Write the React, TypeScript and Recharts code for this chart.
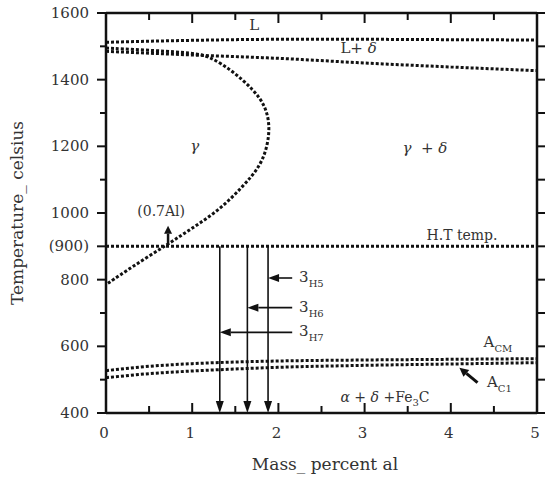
import { LineChart, Line, XAxis, YAxis, CartesianGrid, ReferenceLine, ReferenceDot } from "recharts"

const INK = "#111"
const FONT = "'DejaVu Serif', serif"

// axes
const xTicks = [0, 0.5, 1, 1.5, 2, 2.5, 3, 3.5, 4, 4.5, 5]
const yTicks = [400, 500, 600, 700, 800, 900, 1000, 1100, 1200, 1300, 1400, 1500, 1600]
const yLabels: Record<number, string> = {
  1600: "1600", 1400: "1400", 1200: "1200", 1000: "1000",
  900: "(900)", 800: "800", 600: "600", 400: "400",
}
const X_MIN = 0
const X_MAX = 5
const Y_MIN = 400
const Y_MAX = 1600

// phase boundaries (mass % Al, °C)
const liquidus = [
  { x: 0, y: 1512 }, { x: 1, y: 1518 }, { x: 2, y: 1521 },
  { x: 3, y: 1521 }, { x: 4, y: 1520 }, { x: 5, y: 1519 },
]
const deltaSolvus = [
  { x: 0, y: 1485 }, { x: 1, y: 1474 }, { x: 2, y: 1464 },
  { x: 3, y: 1450 }, { x: 4, y: 1438 }, { x: 5, y: 1427 },
]
const gammaLoop = [
  { x: 0, y: 1495 }, { x: 0.6, y: 1487 }, { x: 1.0, y: 1480 }, { x: 1.2, y: 1471 },
  { x: 1.48, y: 1424 }, { x: 1.71, y: 1370 }, { x: 1.84, y: 1325 }, { x: 1.9, y: 1270 },
  { x: 1.88, y: 1205 }, { x: 1.79, y: 1140 }, { x: 1.59, y: 1080 }, { x: 1.32, y: 1010 },
  { x: 1.01, y: 956 }, { x: 0.71, y: 905 }, { x: 0.31, y: 840 }, { x: 0, y: 785 },
]
const heatTreat = [{ x: 0, y: 900 }, { x: 5, y: 900 }]
const acmLine = [
  { x: 0, y: 527 }, { x: 0.5, y: 540 }, { x: 1, y: 548 }, { x: 1.5, y: 553 },
  { x: 2, y: 556 }, { x: 3, y: 559 }, { x: 4, y: 561 }, { x: 5, y: 563 },
]
const ac1Line = [
  { x: 0, y: 506 }, { x: 0.5, y: 518 }, { x: 1, y: 526 }, { x: 1.5, y: 532 },
  { x: 2, y: 537 }, { x: 3, y: 543 }, { x: 4, y: 547 }, { x: 5, y: 551 },
]

// specimens: quench composition, holding temperature
const specimenNames = ["H7", "H6", "H5"]
const specimenX = [1.32, 1.64, 1.88]
const specimenTemp = [642, 716, 805]
const specimenTailX = 2.16

const dotted = { stroke: INK, strokeWidth: 3, strokeDasharray: "3 2", dot: false, isAnimationActive: false }

function Arrow(p: any) {
  const { x1, y1, x2, y2 } = p
  const dx = x2 - x1
  const dy = y2 - y1
  const len = Math.hypot(dx, dy) || 1
  const ux = dx / len
  const uy = dy / len
  const hl = p.head ?? 11
  const hw = p.hw ?? 4
  const bx = x2 - ux * hl
  const by = y2 - uy * hl
  return (
    <g>
      <line x1={x1} y1={y1} x2={bx} y2={by} stroke={INK} strokeWidth={p.sw ?? 1.6} />
      <polygon
        points={`${x2},${y2} ${bx - uy * hw},${by + ux * hw} ${bx + uy * hw},${by - ux * hw}`}
        fill={INK}
      />
    </g>
  )
}

function BottomTick({ x, y, payload }: any) {
  const major = Number.isInteger(payload.value)
  return (
    <g>
      <line x1={x} x2={x} y1={y} y2={y - (major ? 10 : 7)} stroke={INK} strokeWidth={2} />
      {major && (
        <text x={x - 2} y={y + 25} textAnchor="middle" fontSize={15} fontFamily={FONT} fill="#333">
          {payload.value}
        </text>
      )}
    </g>
  )
}

// left ticks also carry the mirrored right-hand tick and the top-edge ticks,
// using the plot geometry the axis hands to every tick
function LeftTick({ x, y, payload, plotWidth }: any) {
  const label = yLabels[payload.value]
  const right = x + plotWidth
  return (
    <g>
      <line x1={x - (label ? 9 : 6)} x2={x} y1={y} y2={y} stroke={INK} strokeWidth={2} />
      <line x1={right} x2={right + 8} y1={y} y2={y} stroke={INK} strokeWidth={2} />
      {label && (
        <text x={x - 17} y={y + 5} textAnchor="end" fontSize={15} fontFamily={FONT} fill="#333">
          {label}
        </text>
      )}
    </g>
  )
}

function TopTick({ x, payload, plotTop }: any) {
  const major = Number.isInteger(payload.value)
  return <line x1={x} x2={x} y1={plotTop} y2={plotTop + (major ? 10 : 7)} stroke={INK} strokeWidth={2} />
}

function note(key: string, x: number, y: number, body: any, size = 15, anchor = "middle") {
  return (
    <ReferenceDot
      key={key}
      x={x}
      y={y}
      r={0}
      ifOverflow="visible"
      shape={(p: any) => (
        <text x={p.cx} y={p.cy} textAnchor={anchor} fontSize={size} fontFamily={FONT} fill="#333">
          {body}
        </text>
      )}
    />
  )
}

const W = 545
const H = 479
const M = { top: 13, right: 8, bottom: 0, left: 0 }
const Y_AXIS_W = 106
const X_AXIS_H = 66
const PLOT_W = W - M.left - M.right - Y_AXIS_W

export default function App() {
  return (
    <div style={{ position: "absolute", left: 0, top: 0, background: "#fff" }}>
      <LineChart width={W} height={H} margin={M}>
        {/* frame: only the top and right edges come from the grid */}
        <CartesianGrid
          stroke={INK}
          strokeWidth={2.5}
          horizontalCoordinatesGenerator={({ offset }: any) => [offset.top]}
          verticalCoordinatesGenerator={({ offset }: any) => [offset.left + offset.width]}
        />
        <XAxis
          dataKey="x"
          type="number"
          domain={[X_MIN, X_MAX]}
          ticks={xTicks}
          interval={0}
          height={X_AXIS_H}
          tickSize={0}
          tickMargin={0}
          tickLine={false}
          tick={(p: any) => (
            <g>
              <BottomTick {...p} />
              <TopTick {...p} plotTop={M.top} />
            </g>
          )}
          axisLine={{ stroke: INK, strokeWidth: 2.5 }}
          label={{
            content: () => (
              <text x={325} y={470} textAnchor="middle" fontSize={17} fontFamily={FONT} fill="#333">
                Mass_ percent al
              </text>
            ),
          }}
        />
        <YAxis
          type="number"
          domain={[Y_MIN, Y_MAX]}
          ticks={yTicks}
          interval={0}
          width={Y_AXIS_W}
          tickSize={0}
          tickMargin={0}
          tickLine={false}
          tick={(p: any) => <LeftTick {...p} plotWidth={PLOT_W} />}
          axisLine={{ stroke: INK, strokeWidth: 2.5 }}
          label={{
            content: () => (
              <text
                transform="translate(23,213) rotate(-90)"
                textAnchor="middle"
                fontSize={17}
                fontFamily={FONT}
                fill="#333"
              >
                Temperature_ celsius
              </text>
            ),
          }}
        />

        <Line data={liquidus} dataKey="y" type="monotone" {...dotted} />
        <Line data={deltaSolvus} dataKey="y" type="monotone" {...dotted} />
        <Line data={gammaLoop} dataKey="y" type="basis" {...dotted} />
        <Line data={heatTreat} dataKey="y" type="linear" {...dotted} />
        <Line data={acmLine} dataKey="y" type="monotone" {...dotted} />
        <Line data={ac1Line} dataKey="y" type="monotone" {...dotted} />

        {specimenX.map((sx, i) => (
          <ReferenceLine
            key={`q${i}`}
            segment={[{ x: sx, y: 900 }, { x: sx, y: 400 }]}
            ifOverflow="visible"
            shape={(p: any) => <Arrow {...p} head={12} hw={4} />}
          />
        ))}
        {specimenX.map((sx, i) => (
          <ReferenceLine
            key={`h${i}`}
            segment={[{ x: specimenTailX, y: specimenTemp[i] }, { x: sx, y: specimenTemp[i] }]}
            ifOverflow="visible"
            shape={(p: any) => <Arrow {...p} head={11} hw={4} />}
          />
        ))}
        <ReferenceLine
          segment={[{ x: 0.72, y: 905 }, { x: 0.72, y: 962 }]}
          ifOverflow="visible"
          shape={(p: any) => <Arrow {...p} head={8} hw={4} sw={2.5} />}
        />
        <ReferenceLine
          segment={[{ x: 4.31, y: 491 }, { x: 4.1, y: 536 }]}
          ifOverflow="visible"
          shape={(p: any) => <Arrow {...p} head={9} hw={4.5} sw={3} />}
        />

        {note("L", 1.72, 1550, "L")}
        {note("Ld", 2.93, 1481, <>L+ <tspan fontStyle="italic">δ</tspan></>)}
        {note("g", 1.03, 1185, <tspan fontStyle="italic">γ</tspan>)}
        {note("gd", 3.7, 1180, <><tspan fontStyle="italic">γ</tspan>{"\u00a0\u00a0+ "}<tspan fontStyle="italic">δ</tspan></>)}
        {note("al", 0.64, 990, "(0.7Al)", 14)}
        {note("ht", 4.13, 919, "H.T temp.", 14)}
        {specimenNames.map((n, i) =>
          note(`s${n}`, 2.24, specimenTemp[i] - 12, <>3<tspan dy={5} fontSize={10}>{n}</tspan></>, 15, "start")
        )}
        {note("acm", 4.38, 598, <>A<tspan dy={5} fontSize={10}>CM</tspan></>, 15, "start")}
        {note("ac1", 4.42, 478, <>A<tspan dy={5} fontSize={10}>C1</tspan></>, 15, "start")}
        {note(
          "afc",
          2.72,
          434,
          <>
            <tspan fontStyle="italic">α</tspan> + <tspan fontStyle="italic">δ</tspan> +Fe
            <tspan dy={4} fontSize={10}>3</tspan>
            <tspan dy={-4}>C</tspan>
          </>,
          14,
          "start"
        )}
      </LineChart>
    </div>
  )
}
